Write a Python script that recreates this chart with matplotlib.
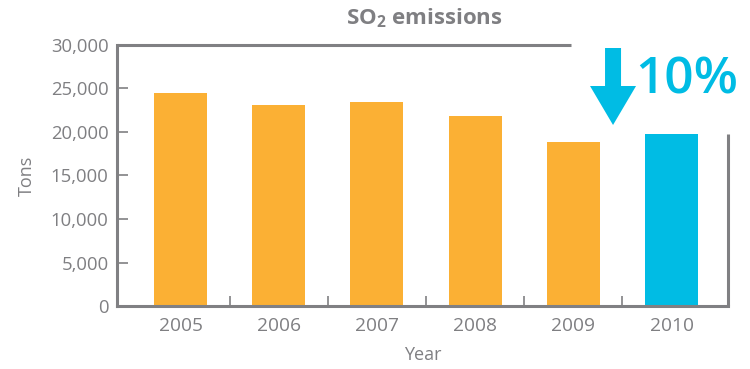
import matplotlib
matplotlib.use("Agg")
import matplotlib.pyplot as plt
from matplotlib.patches import Polygon
from matplotlib.lines import Line2D

plt.rcParams['font.family'] = ['Open Sans', 'DejaVu Sans']
plt.rcParams['mathtext.fontset'] = 'custom'
plt.rcParams['mathtext.rm'] = 'Open Sans'
plt.rcParams['mathtext.bf'] = 'Open Sans:bold'

years = ["2005", "2006", "2007", "2008", "2009", "2010"]
emissions = [24500, 23100, 23450, 21800, 18850, 19800]
bar_colors = ["#FBB034", "#FBB034", "#FBB034", "#FBB034", "#FBB034", "#00BCE4"]
yticks = [0, 5000, 10000, 15000, 20000, 25000, 30000]
ytick_labels = ["0", "5,000", "10,000", "15,000", "20,000", "25,000", "30,000"]
change_label = "10%"

grey = "#808083"
text_grey = "#7f7f82"
cyan = "#00BCE4"

fig = plt.figure(figsize=(7.5, 3.69), dpi=100)
ax = fig.add_axes([117/750, 1-306/369, (728-117)/750, (306-45)/369])

x = list(range(len(years)))
ax.bar(x, emissions, width=0.54, color=bar_colors, zorder=2)

ax.set_xlim(-0.647, 5.575)
ax.set_ylim(0, 30000)

ax.set_yticks(yticks)
ax.set_yticklabels(ytick_labels)
ax.set_xticks(x)
ax.set_xticklabels(years)
ax.set_xticks([i + 0.5 for i in x[:-1]], minor=True)

ax.tick_params(axis='y', direction='in', length=8, width=1.2, color=grey,
               labelsize=13.3, labelcolor=text_grey, pad=6)
ax.tick_params(axis='x', which='major', length=0, labelsize=13.8,
               labelcolor=text_grey, pad=8)
ax.tick_params(axis='x', which='minor', direction='in', length=7, width=1.2, color=grey)

for s in ['left', 'bottom']:
    ax.spines[s].set_color(grey)
    ax.spines[s].set_linewidth(2.2)
ax.spines['top'].set_visible(False)
ax.spines['right'].set_visible(False)

# partial top and right borders
ax.add_line(Line2D([0, (571-117)/(728-117)], [1, 1], transform=ax.transAxes,
                   color=grey, lw=2.2, clip_on=False, solid_capstyle='butt'))
ax.add_line(Line2D([1, 1], [0, (306-134)/(306-45)], transform=ax.transAxes,
                   color=grey, lw=2.2, clip_on=False, solid_capstyle='butt'))

ax.set_ylabel("Tons", fontsize=13, color=text_grey, labelpad=11)
ax.set_xlabel("Year", fontsize=13, color=text_grey, labelpad=8)

fig.text(424/750, 1-18/369, r"$\mathbf{SO_2}$" + " emissions", fontsize=16,
         fontweight='bold', color=text_grey, ha='center', va='center')

# down arrow
def px(xp, yp):
    return ((xp - 180.5) / 98.2, (306 - yp) / 8.7 * 1000)

arrow_pts = [px(605, 48), px(621, 48), px(621, 86), px(636, 86), px(613, 125),
             px(590, 86), px(605, 86)]
ax.add_patch(Polygon(arrow_pts, closed=True, color=cyan, clip_on=False, zorder=3, lw=0))

fig.text(687/750, 1-81/369, change_label, fontsize=37, color=cyan,
         ha='center', va='center', fontweight='semibold')

fig.savefig("out.png", dpi=100)
